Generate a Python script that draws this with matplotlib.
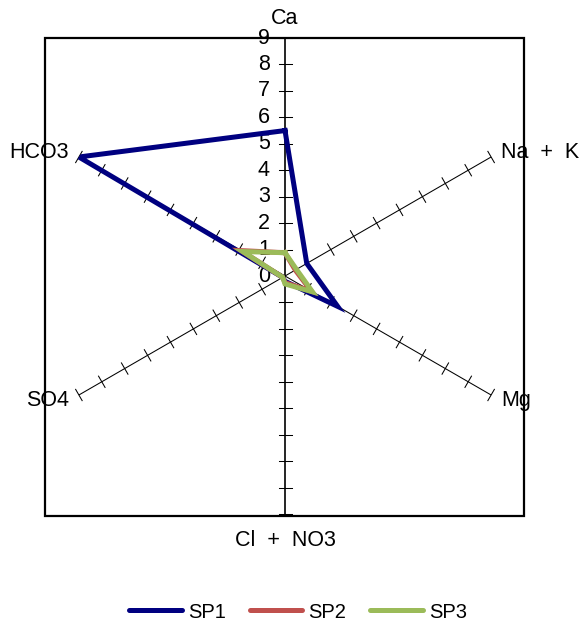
import numpy as np
import matplotlib
matplotlib.use("Agg")
import matplotlib.pyplot as plt
from matplotlib.patches import Rectangle
from matplotlib.lines import Line2D

# data
categories = ['Ca', 'Na  +  K', 'Mg', 'Cl  +  NO3', 'SO4', 'HCO3']
sp1 = [5.5, 0.95, 2.3, 0.2, 0.1, 9.0]
sp2 = [0.88, 0.45, 1.15, 0.25, 0.1, 1.92]
sp3 = [0.88, 0.5, 1.2, 0.3, 0.1, 1.85]
series_names = ['SP1', 'SP2', 'SP3']
colors = ['#000080', '#C0504D', '#9BBB59']
value_ticks = list(range(0, 10))

plt.rcParams['font.family'] = ['Liberation Sans', 'DejaVu Sans']


def main():
    fig = plt.figure(figsize=(5.8, 6.27), dpi=100)
    W, H = 580, 627
    cx, cy, rad = 285, 276, 238
    ax = fig.add_axes([(cx - rad) / W, 1 - (cy + rad) / H, 2 * rad / W, 2 * rad / H],
                      projection='polar')
    ax.set_theta_zero_location('N')
    ax.set_theta_direction(-1)
    ax.set_ylim(0, 9)
    ax.grid(False)
    ax.set_xticks([])
    ax.set_yticks([])
    ax.spines['polar'].set_visible(False)
    ax.patch.set_alpha(0)

    angles = np.deg2rad(np.arange(len(categories)) * 60)

    # spokes with cross ticks (half length d in data units)
    d = 6.5 / (rad / 9)
    for i, th in enumerate(angles):
        lw = 1.2 if i in (0, 3) else 0.75
        ax.plot([th, th], [0, 9], color='black', lw=lw, zorder=1)
        tt, rr = [], []
        for r in value_ticks[1:]:
            a = np.arctan(d / r)
            R = np.hypot(r, d)
            tt += [th - a, th + a, np.nan]
            rr += [R, R, np.nan]
        ax.plot(tt, rr, color='black', lw=0.75, zorder=1, clip_on=False)

    # value labels along the Ca axis
    for v in value_ticks:
        ax.annotate(str(v), xy=(0, v), xytext=(-15, 0), textcoords='offset pixels',
                    ha='right', va='center', fontsize=15.5)

    # category labels
    offsets = [(0, 20, 'center'), (10, 5, 'left'), (10, -6, 'left'),
               (0, -26, 'center'), (-10, -5, 'right'), (-10, 5, 'right')]
    for th, lab, (dx, dy, ha) in zip(angles, categories, offsets):
        ax.annotate(lab, xy=(th, 9), xytext=(dx, dy), textcoords='offset pixels',
                    ha=ha, va='center', fontsize=15.5, annotation_clip=False)

    # series
    closed = np.append(angles, angles[0])
    for vals, c in zip([sp1, sp2, sp3], colors):
        ax.plot(closed, list(vals) + [vals[0]], color=c, lw=3.6, zorder=3,
                solid_joinstyle='miter')

    # plot area frame
    fig.add_artist(Rectangle((45 / W, 1 - 516 / H), (524 - 45) / W, (516 - 38) / H,
                             transform=fig.transFigure, fill=False, lw=1.6,
                             ec='black'))

    handles = [Line2D([], [], color=c, lw=3.6, solid_capstyle='round') for c in colors]
    fig.legend(handles, series_names, loc='center', bbox_to_anchor=(298 / W, 1 - 612 / H),
               ncol=3, frameon=False, fontsize=14.5, handlelength=2.6,
               handletextpad=0.3, columnspacing=1.2)

    fig.savefig('out.png', dpi=100)


if __name__ == "__main__":
    main()
